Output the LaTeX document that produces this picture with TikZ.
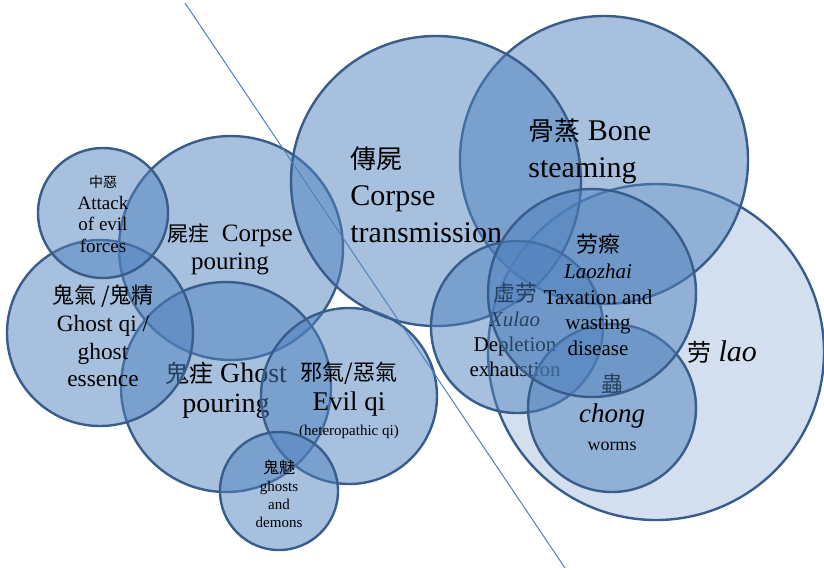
\documentclass[tikz,border=0pt]{standalone}
\usepackage{fontspec}
\setmainfont{Liberation Serif}
\newfontfamily\cjk{Noto Sans CJK TC}
\usetikzlibrary{positioning}

\definecolor{bubblefill}{RGB}{79,129,189}
\definecolor{bubbleline}{RGB}{56,93,138}

\begin{document}
\begin{tikzpicture}[
    x=0.5pt, y=-0.5pt,
    bubble/.style = {circle, draw=bubbleline, line width=1.2pt, fill=bubblefill,
                     fill opacity=0.5, draw opacity=1, inner sep=0pt},
    outer/.style = {bubble, fill opacity=0.25},
    txt/.style = {align=center, inner sep=0pt, text=black},
    cut/.style = {draw=bubblefill, line width=0.5pt}
]
    \useasboundingbox (0,0) rectangle (824,570);

    % Lao
    \node[outer, minimum size=168pt] (lao) at (656,352) {};
    \node[txt, font=\fontsize{15}{18}\selectfont] (laotxt) at (722,352)
        {{\cjk\fontsize{12}{14}\selectfont 劳}\ \textit{lao}};

    % Corpse pouring
    \node[bubble, minimum size=112pt] (shizhu) at (231,248) {};

    % Ghost pouring
    \node[bubble, minimum size=105pt] (guizhu) at (226,387) {};
    \node[txt, font=\fontsize{14}{15}\selectfont] (guizhutxt) at (226,390)
        {{\cjk\fontsize{12}{14}\selectfont 鬼疰}\ Ghost\\pouring};

    % Ghost qi
    \node[bubble, minimum size=93pt] (guiqi) at (100,333) {};
    \node[txt, font=\fontsize{11.7}{13.8}\selectfont] (guiqitxt) at (103,336)
        {{\cjk\fontsize{11}{13}\selectfont 鬼氣 /鬼精}\\Ghost qi /\\ghost\\essence};

    % Attack of evil forces
    \node[bubble, minimum size=65pt] (zhonge) at (103,213) {};
    \node[txt, font=\fontsize{9.5}{10.8}\selectfont] (zhongetxt) at (103,214)
        {{\cjk\fontsize{7}{8}\selectfont 中惡}\\Attack\\of evil\\forces};
    \node[txt, font=\fontsize{12.5}{14}\selectfont] (shizhutxt) at (230,249)
        {{\cjk\fontsize{10.5}{12}\selectfont 屍疰}\ \ Corpse\\pouring};

    % Evil qi
    \node[bubble, minimum size=88pt] (xieqi) at (349,396) {};
    \node[txt, font=\fontsize{13.5}{15}\selectfont] (xieqitxt) at (349,400)
        {{\cjk\fontsize{11}{13}\selectfont 邪氣/惡氣}\\Evil qi\\[-2.5pt]{\fontsize{7.5}{9}\selectfont (heteropathic qi)}};

    % Ghosts and demons
    \node[bubble, minimum size=59pt] (guimei) at (279,491) {};
    \node[txt, font=\fontsize{7.5}{9}\selectfont] (guimeitxt) at (279,494)
        {{\cjk\fontsize{8}{9}\selectfont 鬼魅}\\ghosts\\and\\demons};

    % Bone steaming, corpse transmission
    \node[bubble, minimum size=144pt] (guzheng) at (604,160) {};
    \node[bubble, minimum size=145pt] (chuanshi) at (436,181) {};
    \node[txt, align=left, anchor=west, font=\fontsize{15}{18.5}\selectfont] (chuanshitxt) at (350,195)
        {{\cjk\fontsize{13}{15}\selectfont 傳屍}\\Corpse\\transmission};
    \node[txt, align=left, anchor=west, font=\fontsize{15}{18.5}\selectfont] (guzhengtxt) at (528,151)
        {{\cjk\fontsize{13}{15}\selectfont 骨蒸}\ Bone\\steaming};

    % Xulao
    \node[bubble, minimum size=86pt] (xulao) at (517,327) {};
    \node[txt, font=\fontsize{10.5}{12.5}\selectfont] (xulaotxt) at (515,330)
        {{\cjk\fontsize{11}{13}\selectfont 虛劳}\\\textit{Xulao}\\Depletion\\exhaustion};

    % Chong
    \node[bubble, minimum size=84pt] (chong) at (612,408) {};
    \node[txt, font=\fontsize{13.5}{15}\selectfont] (chongtxt) at (612,412)
        {{\cjk\fontsize{11}{13}\selectfont 蟲}\\\textit{chong}\\[-1pt]{\fontsize{9}{10}\selectfont worms}};

    % Laozhai
    \node[bubble, minimum size=104pt] (laozhai) at (592,293) {};
    \node[txt, font=\fontsize{10.5}{12.8}\selectfont] (laozhaitxt) at (598,295)
        {{\cjk\fontsize{11}{13}\selectfont 劳瘵}\\\textit{Laozhai}\\Taxation and\\wasting\\disease};

    % Diagonal
    \coordinate (cutA) at (185,3);
    \coordinate (cutB) at (565,568);
    \draw[cut] (cutA) -- (cutB);

\end{tikzpicture}
\end{document}
